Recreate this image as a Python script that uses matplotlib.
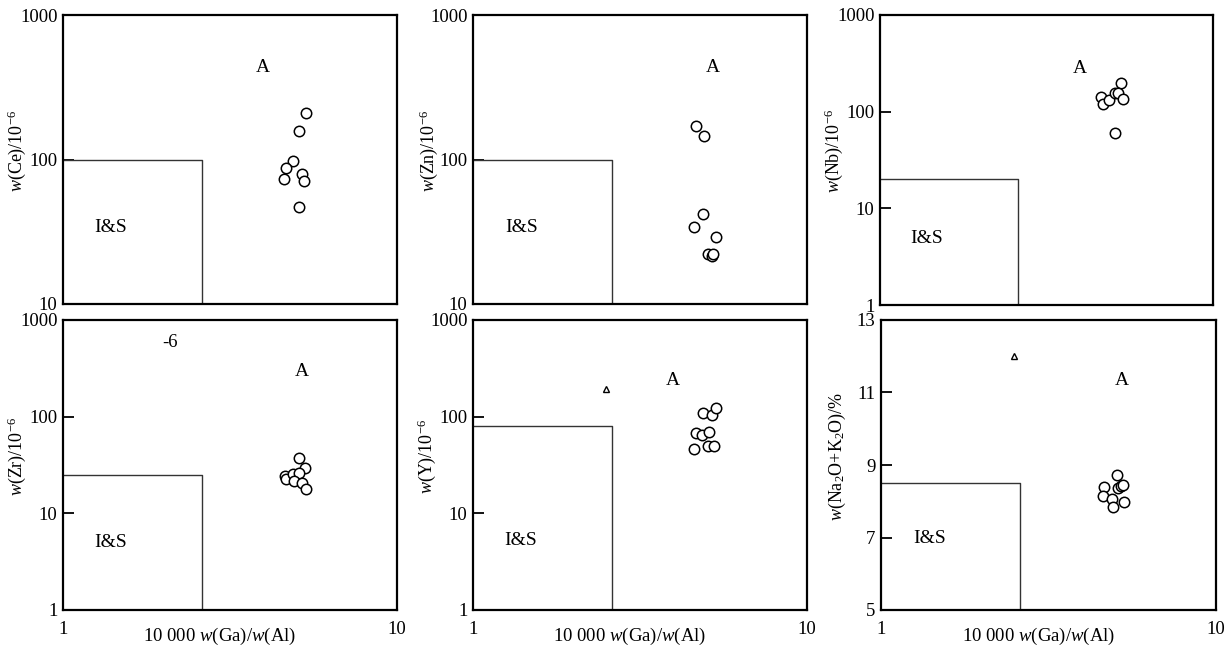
import matplotlib
matplotlib.use("Agg")
import matplotlib.pyplot as plt
from matplotlib.ticker import FixedLocator, NullLocator, NullFormatter

plt.rcParams["font.family"] = "Liberation Serif"
plt.rcParams["mathtext.fontset"] = "custom"
plt.rcParams["mathtext.rm"] = "Liberation Serif"
plt.rcParams["mathtext.it"] = "Liberation Serif:italic"

# ====== DATA (10000 Ga/Al vs element) ======
ce_x = [5.35, 5.08, 4.89, 4.66, 4.60, 5.18, 5.27, 5.08]
ce_y = [209, 157, 97, 88, 73, 79, 71, 47]

zn_x = [4.65, 4.92, 4.88, 4.60, 5.35, 5.06, 5.18, 5.24]
zn_y = [171, 146, 42, 34, 29, 22.2, 21.5, 22.1]

nb_x = [5.28, 4.60, 4.66, 4.88, 5.08, 5.20, 5.35, 5.07]
nb_y = [200, 143, 120, 132, 157, 155, 134, 60]

zr_x = [5.10, 5.30, 4.62, 4.66, 4.88, 5.10, 4.92, 5.20, 5.35]
zr_y = [37, 29.4, 24.1, 22.6, 25.5, 26.1, 21.5, 20.4, 17.7]

y_x = [4.88, 5.18, 5.34, 4.64, 4.85, 5.08, 4.58, 5.07, 5.28]
y_y = [108, 104, 123, 67, 64.6, 70, 46, 49.5, 50]

alk_x = [5.05, 4.63, 4.60, 4.89, 4.92, 5.10, 5.21, 5.28, 5.31]
alk_y = [8.73, 8.40, 8.14, 8.07, 7.84, 8.36, 8.41, 8.44, 7.98]

# triangles (single samples)
tri_y = ([2.50], [193])
tri_alk = ([2.49], [12.0])

# I&S field limits
ga_al_limit = 2.6
limits = {"ce": 100, "zn": 100, "nb": 20, "zr": 25, "y": 80, "alk": 8.5}

xlabel = "10 000 $w$(Ga)/$w$(Al)"

# ====== PANELS ======
fig = plt.figure(figsize=(12.31, 6.49), dpi=100)

W, H = 1231, 649
def make_ax(x0, x1, ytop, ybot):
    return fig.add_axes([x0 / W, (H - ybot) / H, (x1 - x0) / W, (ybot - ytop) / H])

panels = [
    # (box px, xs, ys, limit, ylim, log, yticks, ylabel, A pos, I&S pos, bottom row, label x)
    ((63, 397, 15, 304), ce_x, ce_y, limits["ce"], (10, 1000), True, [10, 100, 1000],
     "$w$(Ce)/10$^{-6}$", (0.599, 0.817), (0.144, 0.263), False, -0.105),
    ((473, 807, 15, 304), zn_x, zn_y, limits["zn"], (10, 1000), True, [10, 100, 1000],
     "$w$(Zn)/10$^{-6}$", (0.719, 0.817), (0.147, 0.263), False, -0.100),
    ((880, 1213, 15, 305), nb_x, nb_y, limits["nb"], (1, 1000), True, [1, 10, 100, 1000],
     "$w$(Nb)/10$^{-6}$", (0.600, 0.817), (0.141, 0.231), False, -0.105),
    ((63, 397, 320, 610), zr_x, zr_y, limits["zr"], (1, 1000), True, [1, 10, 100, 1000],
     "$w$(Zr)/10$^{-6}$", (0.716, 0.821), (0.144, 0.234), True, -0.105),
    ((473, 807, 320, 610), y_x, y_y, limits["y"], (1, 1000), True, [1, 10, 100, 1000],
     "$w$(Y)/10$^{-6}$", (0.599, 0.793), (0.144, 0.241), True, -0.105),
    ((881, 1216, 320, 610), alk_x, alk_y, limits["alk"], (5, 13), False, [5, 7, 9, 11, 13],
     "$w$(Na$_2$O+K$_2$O)/%", (0.719, 0.793), (0.146, 0.245), True, -0.100),
]

axes = []
for box, xs, ys, lim, ylim, logy, yticks, ylab, apos, ispos, bottom, lx in panels:
    ax = make_ax(*box)
    axes.append(ax)
    ax.set_xscale("log")
    if logy:
        ax.set_yscale("log")
    ax.set_xlim(1, 10)
    ax.set_ylim(*ylim)

    # I&S field
    ax.plot([1, ga_al_limit, ga_al_limit], [lim, lim, ylim[0]], color="#333333", lw=1.0)

    ax.plot(xs, ys, "o", mfc="white", mec="black", mew=1.1, ms=7.5, ls="none")

    ax.text(*apos, "A", transform=ax.transAxes, fontsize=14, ha="center", va="center")
    ax.text(*ispos, "I&S", transform=ax.transAxes, fontsize=14, ha="center", va="center")

    ax.yaxis.set_major_locator(FixedLocator(yticks))
    ax.yaxis.set_minor_locator(NullLocator())
    ax.yaxis.set_minor_formatter(NullFormatter())
    ax.set_yticklabels([str(t) for t in yticks])
    ax.tick_params(axis="y", direction="in", length=8, width=1.3, labelsize=13.5, pad=4)

    ax.xaxis.set_minor_locator(NullLocator())
    ax.xaxis.set_minor_formatter(NullFormatter())
    if bottom:
        ax.xaxis.set_major_locator(FixedLocator([1, 10]))
        ax.set_xticklabels(["1", "10"])
        ax.tick_params(axis="x", length=0, labelsize=13.5, pad=8)
        ax.set_xlabel(xlabel, fontsize=13.5)
        ax.xaxis.set_label_coords(0.47, -0.055)
    else:
        ax.xaxis.set_major_locator(NullLocator())

    ax.set_ylabel(ylab, fontsize=13)
    ax.yaxis.set_label_coords(lx, 0.53)

    for s in ax.spines.values():
        s.set_linewidth(1.6)

# triangles
axes[4].plot(*tri_y, "^", mfc="white", mec="black", mew=1.0, ms=4, ls="none")
axes[5].plot(*tri_alk, "^", mfc="white", mec="black", mew=1.0, ms=4, ls="none")

# stray label in Zr panel
axes[3].text(0.32, 0.924, "-6", transform=axes[3].transAxes, fontsize=13.5, ha="center", va="center")

plt.savefig("out.png", dpi=100)
plt.close()
